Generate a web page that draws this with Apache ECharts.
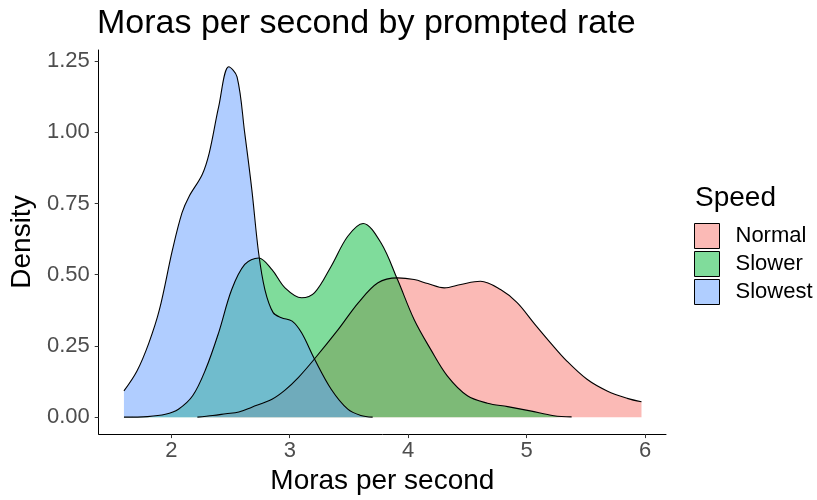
<!DOCTYPE html>
<html>
<head>
<meta charset="utf-8">
<script src="https://cdn.jsdelivr.net/npm/echarts@6/dist/echarts.min.js"></script>
<style>html,body{margin:0;padding:0;background:#fff;}#c{width:817px;height:500px;}</style>
</head>
<body>
<div id="c"></div>
<script>
// ---- data ----
const seriesNames = ['Normal', 'Slower', 'Slowest'];
const normalX = [2.22,2.35,2.46,2.57,2.68,2.85,2.96,3.07,3.21,3.41,3.58,3.745,3.91,4.05,4.165,4.305,4.445,4.61,4.78,4.92,5.06,5.20,5.34,5.51,5.68,5.85,5.97];
const normalY = [0.0,0.006,0.012,0.018,0.035,0.063,0.095,0.138,0.205,0.308,0.402,0.472,0.489,0.483,0.469,0.454,0.466,0.477,0.448,0.402,0.331,0.262,0.197,0.133,0.092,0.066,0.054];
const slowerX = [1.60,1.80,1.95,2.06,2.18,2.29,2.40,2.51,2.62,2.737,2.85,2.96,3.10,3.21,3.35,3.49,3.62,3.77,3.91,4.05,4.19,4.33,4.50,4.67,4.84,5.03,5.23,5.38];
const slowerY = [0.0,0.002,0.01,0.028,0.075,0.168,0.297,0.448,0.536,0.559,0.518,0.454,0.419,0.437,0.530,0.635,0.68,0.612,0.483,0.343,0.238,0.145,0.075,0.049,0.037,0.022,0.005,0.001];
const slowestX = [1.60,1.71,1.81,1.90,2.01,2.09,2.15,2.26,2.32,2.40,2.485,2.555,2.62,2.68,2.737,2.79,2.86,2.93,3.02,3.10,3.21,3.35,3.49,3.60,3.70];
const slowestY = [0.092,0.162,0.26,0.378,0.588,0.717,0.775,0.851,0.927,1.09,1.23,1.195,0.997,0.798,0.577,0.448,0.367,0.349,0.337,0.296,0.203,0.098,0.028,0.006,0.0];
const xTicks = [2, 3, 4, 5, 6];
const yTicks = [0, 0.25, 0.5, 0.75, 1.0, 1.25];

const baseColors = ['#F8766D', '#00BA38', '#619CFF'];
const keyColors = ['#FBBAB6', '#80DC9B', '#B0CEFF'];
const xs = [normalX, slowerX, slowestX];
const ys = [normalY, slowerY, slowestY];

const FONT = '"Liberation Sans", Arial, sans-serif';

const series = seriesNames.map((name, i) => ({
  name: name,
  type: 'line',
  data: xs[i].map((x, j) => [x, ys[i][j]]),
  smooth: 0.35,
  symbol: 'none',
  color: baseColors[i],
  lineStyle: { color: '#000', width: 1.1 },
  areaStyle: { color: baseColors[i], opacity: 0.5, origin: 0 },
  emphasis: { disabled: true },
  silent: true
}));

const chart = echarts.init(document.getElementById('c'), null, { renderer: 'canvas' });
chart.setOption({
  animation: false,
  backgroundColor: '#fff',
  title: [
    { text: 'Moras per second by prompted rate', left: 92, top: 2,
      textStyle: { fontFamily: FONT, fontSize: 34, fontWeight: 'normal', color: '#000' } },
    { text: 'Speed', left: 690, top: 179,
      textStyle: { fontFamily: FONT, fontSize: 28, fontWeight: 'normal', color: '#000' } }
  ],
  legend: {
    orient: 'vertical',
    left: 694, top: 223,
    padding: 0,
    itemWidth: 25, itemHeight: 25, itemGap: 2,
    icon: 'rect',
    selectedMode: false,
    data: seriesNames.map((n, i) => ({ name: n, itemStyle: { color: keyColors[i], borderColor: '#000', borderWidth: 1 } })),
    textStyle: { fontFamily: FONT, fontSize: 22, color: '#000', padding: [0, 0, 0, 11] }
  },
  grid: { left: 96, right: 151, top: 50, bottom: 65 },
  xAxis: {
    type: 'value',
    min: 1.387, max: 6.177,
    name: 'Moras per second',
    nameLocation: 'middle',
    nameGap: 31,
    nameTextStyle: { fontFamily: FONT, fontSize: 28, color: '#000' },
    splitLine: { show: false },
    axisLine: { show: true, onZero: false, lineStyle: { color: '#000', width: 1 } },
    axisTick: { show: true, length: 4, lineStyle: { color: '#333' }, customValues: xTicks },
    axisLabel: { fontFamily: FONT, fontSize: 22, color: '#4D4D4D', margin: 6, customValues: xTicks }
  },
  yAxis: {
    type: 'value',
    min: -0.0595, max: 1.289,
    name: 'Density',
    nameLocation: 'middle',
    nameGap: 60,
    nameRotate: 90,
    nameTextStyle: { fontFamily: FONT, fontSize: 28, color: '#000' },
    splitLine: { show: false },
    axisLine: { show: true, onZero: false, lineStyle: { color: '#000', width: 1 } },
    axisTick: { show: true, length: 4, lineStyle: { color: '#333' }, customValues: yTicks },
    axisLabel: { fontFamily: FONT, fontSize: 22, color: '#4D4D4D', margin: 9, customValues: yTicks,
      formatter: v => v.toFixed(2) }
  },
  series: series
});
</script>
</body>
</html>
